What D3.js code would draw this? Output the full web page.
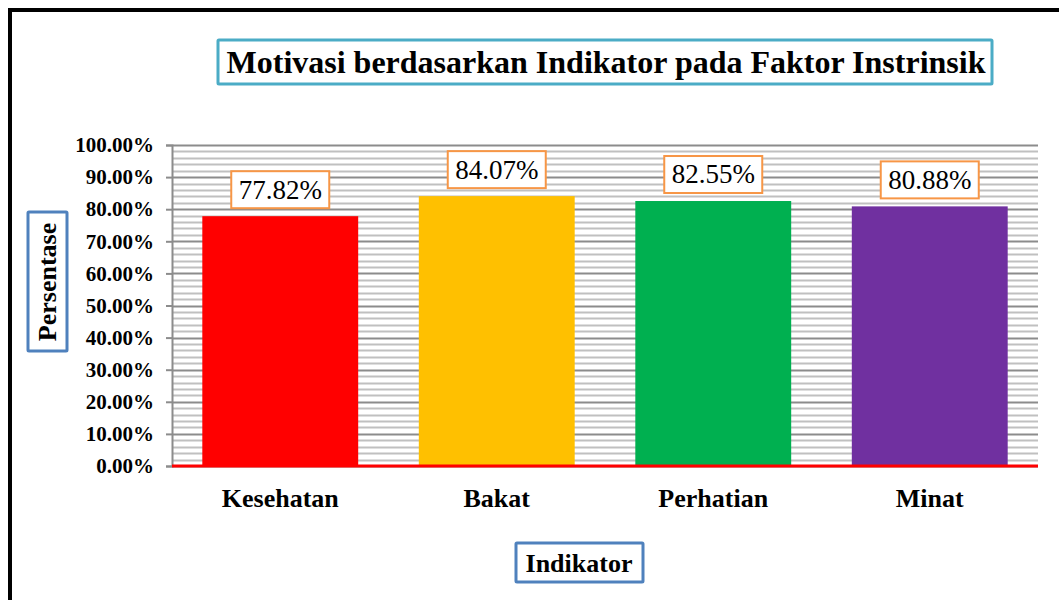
<!DOCTYPE html>
<html>
<head>
<meta charset="utf-8">
<script src="https://cdn.jsdelivr.net/npm/d3@7"></script>
<style>
  body { margin: 0; background: #fff; }
  svg text { font-family: "Liberation Serif", "Times New Roman", Times, serif !important; }
</style>
</head>
<body>
<svg width="1059" height="600"></svg>
<script>
const categories = ["Kesehatan", "Bakat", "Perhatian", "Minat"];
const values = [0.7782, 0.8407, 0.8255, 0.8088];
const barColors = ["#FF0000", "#FFC000", "#00B050", "#7030A0"];
const yTicks = [0, 0.1, 0.2, 0.3, 0.4, 0.5, 0.6, 0.7, 0.8, 0.9, 1.0];

const svg = d3.select("svg"),
    width = +svg.attr("width"),
    height = +svg.attr("height");

// outer frame (runs off the right/bottom edge)
svg.append("rect")
    .attr("x", 10).attr("y", 10)
    .attr("width", width + 20).attr("height", height + 20)
    .attr("fill", "none")
    .attr("stroke", "#000")
    .attr("stroke-width", 4);

const plot = { left: 172, right: 1038, top: 145, bottom: 466 };

const x = d3.scaleBand()
    .domain(categories)
    .range([plot.left, plot.right])
    .paddingInner(0.28)
    .paddingOuter(0.14);

const y = d3.scaleLinear()
    .domain([0, 1])
    .range([plot.bottom, plot.top]);

// minor grid every 2%
const minor = d3.range(0, 1.0001, 0.02).filter(v => Math.round(v * 100) % 10 !== 0);
svg.append("g")
    .selectAll("line")
    .data(minor)
    .enter().append("line")
    .attr("x1", plot.left).attr("x2", plot.right)
    .attr("y1", d => Math.round(y(d)) + 0.5)
    .attr("y2", d => Math.round(y(d)) + 0.5)
    .attr("stroke", "#c0c0c0")
    .attr("stroke-width", 2);

// major grid every 10%
svg.append("g")
    .selectAll("line")
    .data(yTicks)
    .enter().append("line")
    .attr("x1", plot.left).attr("x2", plot.right)
    .attr("y1", d => Math.round(y(d)) + 0.5)
    .attr("y2", d => Math.round(y(d)) + 0.5)
    .attr("stroke", "#8c8c8c")
    .attr("stroke-width", 2);

// y axis
const yAxis = svg.append("g")
    .attr("transform", `translate(${plot.left},0)`)
    .call(d3.axisLeft(y).tickValues(yTicks).tickSize(6).tickPadding(12)
        .tickFormat(d => (d * 100).toFixed(2) + "%"));
yAxis.select(".domain").attr("stroke", "#8c8c8c").attr("stroke-width", 2);
yAxis.selectAll(".tick line").attr("stroke", "#8c8c8c").attr("stroke-width", 2);
yAxis.selectAll(".tick text")
    .attr("fill", "#000")
    .style("font-size", "21px")
    .style("font-weight", "bold");

// bars
svg.append("g")
    .selectAll("rect")
    .data(values)
    .enter().append("rect")
    .attr("x", (d, i) => x(categories[i]))
    .attr("width", x.bandwidth())
    .attr("y", d => y(d))
    .attr("height", d => y(0) - y(d))
    .attr("fill", (d, i) => barColors[i]);

// x axis line
svg.append("line")
    .attr("x1", plot.left).attr("x2", plot.right)
    .attr("y1", y(0)).attr("y2", y(0))
    .attr("stroke", "#FF0000")
    .attr("stroke-width", 3);

// category labels
svg.append("g")
    .selectAll("text")
    .data(categories)
    .enter().append("text")
    .attr("x", d => x(d) + x.bandwidth() / 2)
    .attr("y", 507)
    .attr("text-anchor", "middle")
    .style("font-size", "26px")
    .style("font-weight", "bold")
    .text(d => d);

// value labels in boxes
const lab = svg.append("g")
    .selectAll("g")
    .data(values)
    .enter().append("g")
    .attr("transform", (d, i) => `translate(${x(categories[i]) + x.bandwidth() / 2},${y(d) - 27})`);
lab.append("rect")
    .attr("x", -49).attr("y", -18)
    .attr("width", 98).attr("height", 37)
    .attr("fill", "#fff")
    .attr("stroke", "#F79646")
    .attr("stroke-width", 2);
lab.append("text")
    .attr("text-anchor", "middle")
    .attr("dy", "0.35em")
    .style("font-size", "27px")
    .text(d => (d * 100).toFixed(2) + "%");

// chart title
svg.append("rect")
    .attr("x", 218).attr("y", 40)
    .attr("width", 774).attr("height", 44)
    .attr("fill", "#fff")
    .attr("stroke", "#4BACC6")
    .attr("stroke-width", 3)
    .attr("rx", 1);
svg.append("text")
    .attr("x", 606).attr("y", 73)
    .attr("text-anchor", "middle")
    .style("font-size", "32px")
    .style("font-weight", "bold")
    .text("Motivasi berdasarkan Indikator pada Faktor Instrinsik");

// y axis title
svg.append("rect")
    .attr("x", 28).attr("y", 212)
    .attr("width", 39).attr("height", 139)
    .attr("fill", "#fff")
    .attr("stroke", "#4F81BD")
    .attr("stroke-width", 3)
    .attr("rx", 1);
svg.append("text")
    .attr("transform", "translate(56,282) rotate(-90)")
    .attr("text-anchor", "middle")
    .style("font-size", "26px")
    .style("font-weight", "bold")
    .text("Persentase");

// x axis title
svg.append("rect")
    .attr("x", 516).attr("y", 543)
    .attr("width", 127).attr("height", 39)
    .attr("fill", "#fff")
    .attr("stroke", "#4F81BD")
    .attr("stroke-width", 3)
    .attr("rx", 1);
svg.append("text")
    .attr("x", 579).attr("y", 572)
    .attr("text-anchor", "middle")
    .style("font-size", "26px")
    .style("font-weight", "bold")
    .text("Indikator");
</script>
</body>
</html>
